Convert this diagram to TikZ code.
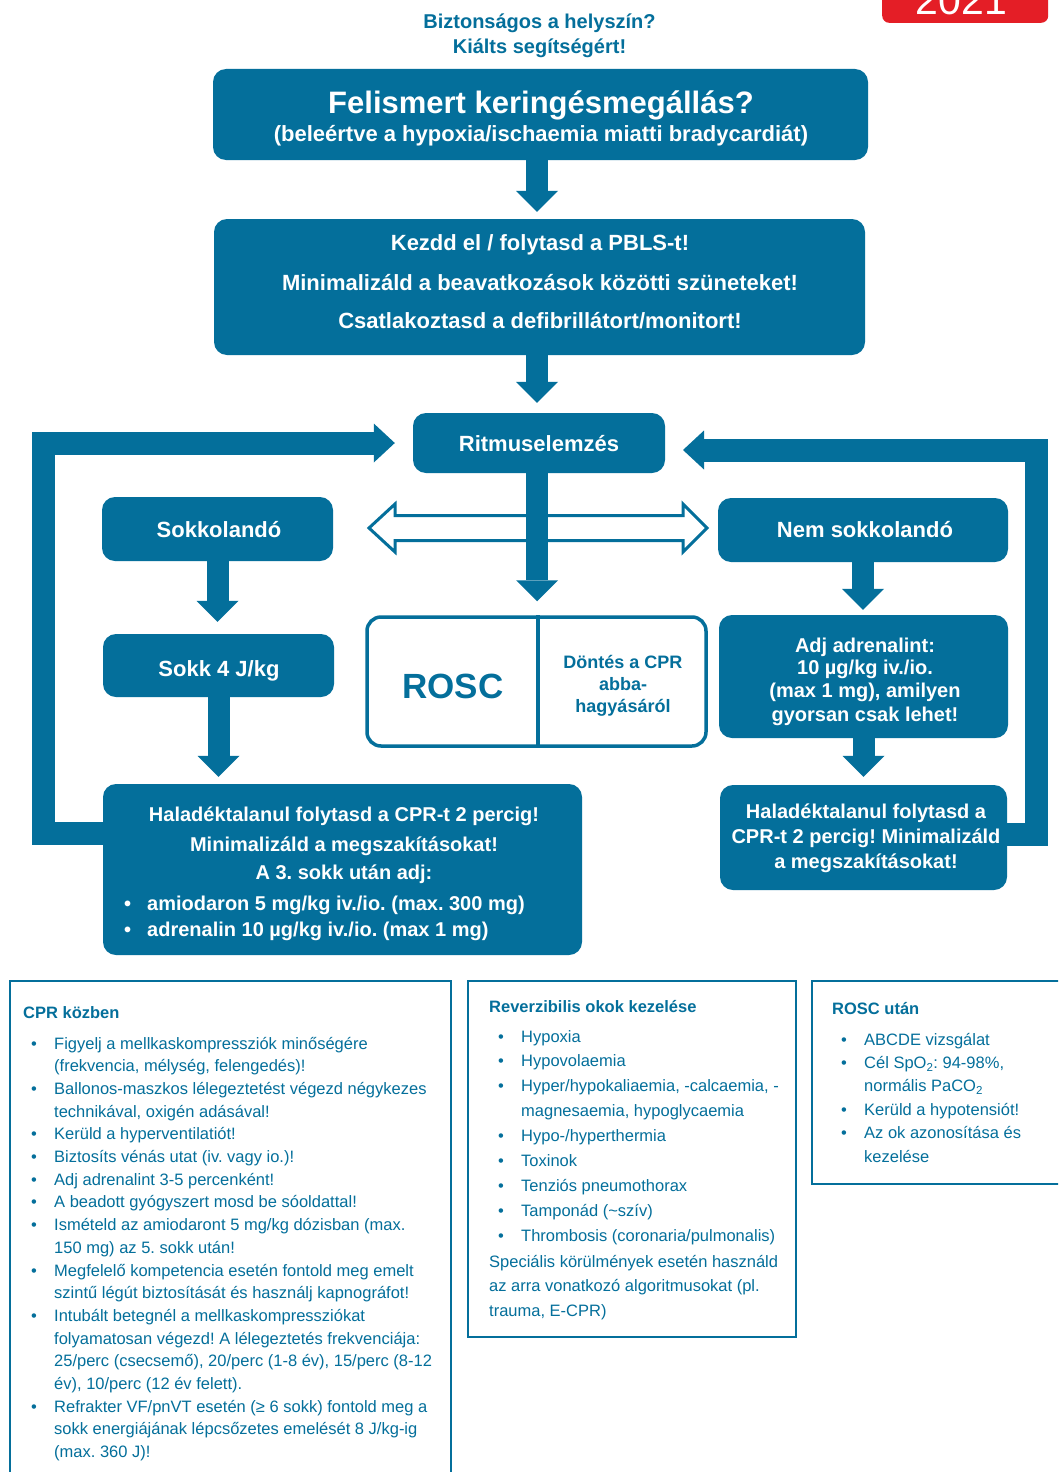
\documentclass[tikz,border=0pt]{standalone}
\usepackage{fontspec}
\setmainfont{Liberation Sans}
\usetikzlibrary{arrows.meta}
\definecolor{bblue}{RGB}{4,111,155}
\definecolor{tabred}{RGB}{228,30,38}
\frenchspacing
\begin{document}
\begin{tikzpicture}[x=1pt,y=-1pt,
  bluebox/.style={fill=bblue, rounded corners=13pt, inner sep=0pt, draw=none},
  wt/.style={text=white, inner sep=0pt, anchor=base, font=\bfseries\fontsize{22}{26}\selectfont},
  wts/.style={wt, font=\bfseries\fontsize{20}{24}\selectfont},
  barrow/.style={draw=bblue, line width=22pt, -{Triangle[length=21pt,width=42pt,line width=0pt]}},
  loopline/.style={draw=bblue, line width=23pt, line join=miter, -{Triangle[length=21pt,width=39pt,line width=0pt]}},
  panel/.style={draw=bblue, line width=2pt, inner sep=0pt, anchor=north west},
  btxt/.style={text=bblue, inner sep=0pt, anchor=base west, font=\fontsize{16.5}{20}\selectfont},
  bhead/.style={btxt, font=\bfseries\fontsize{16.5}{20}\selectfont}]
\useasboundingbox (0,0) rectangle (1058,1472);
\clip (0,0) rectangle (1058,1472);
\fill[white] (0,0) rectangle (1058,1472);

% year tab
\node[fill=tabred, rounded corners=7pt, minimum width=166, minimum height=50, anchor=south west, inner sep=0pt] (tab) at (882,23) {};
\node[text=white, inner sep=0pt, anchor=base, font=\fontsize{41}{41}\selectfont] (year) at (961.5,15) {2021};

% top question
\node[inner sep=0pt, anchor=base, text=bblue, font=\bfseries\fontsize{20}{24}\selectfont] (q1) at (539.5,29) {Biztonságos a helyszín?};
\node[inner sep=0pt, anchor=base, text=bblue, font=\bfseries\fontsize{20}{24}\selectfont] (q2) at (539.5,53) {Kiálts segítségért!};

% rhythm box first, then loops below the other boxes
\node[bluebox, minimum width=252, minimum height=60] (rit) at (539,443) {};
\coordinate (l1s) at (115,833);
\coordinate (l1c) at (43.5,443);
\coordinate (l2s) at (995,834);
\coordinate (l2c) at (1036.5,450);
\coordinate (l2e) at (665,450);
\draw[loopline, shorten >=18pt] (l1s) -| (l1c) -- (rit.west);
\draw[loopline, shorten >=18pt] (l2s) -| (l2c) -- (l2e);

% boxes
\node[bluebox, minimum width=655, minimum height=91] (b1) at (540.5,114.5) {};
\node[bluebox, minimum width=651, minimum height=136] (b2) at (539.5,287) {};
\node[bluebox, minimum width=231, minimum height=64] (sok) at (217.5,529) {};
\node[bluebox, minimum width=290, minimum height=64] (nsok) at (863,530) {};
\node[bluebox, minimum width=231, minimum height=63] (sokk) at (218.5,665.5) {};
\node[draw=bblue, fill=white, line width=3.5pt, rounded corners=14pt, inner sep=0pt, minimum width=339, minimum height=129] (rosc) at (536.5,681.5) {};
\node[bluebox, minimum width=289, minimum height=123] (adr) at (863.5,676.5) {};
\node[bluebox, minimum width=479, minimum height=171] (hl) at (342.5,869.5) {};
\node[bluebox, minimum width=287, minimum height=105] (hr) at (863.5,837.5) {};

% box texts
\node[wt, font=\bfseries\fontsize{31}{34}\selectfont] (t1a) at (541,113) {Felismert keringésmegállás?};
\node[wt] (t1b) at (541,141) {(beleértve a hypoxia/ischaemia miatti bradycardiát)};
\node[wt] (t2a) at (540,250) {Kezdd el / folytasd a PBLS-t!};
\node[wt] (t2b) at (540,290) {Minimalizáld a beavatkozások közötti szüneteket!};
\node[wt] (t2c) at (540,328) {Csatlakoztasd a defibrillátort/monitort!};
\node[wt] (trit) at (539,451) {Ritmuselemzés};
\node[wt] (tsok) at (219,537) {Sokkolandó};
\node[wt] (tnsok) at (865,537) {Nem sokkolandó};
\node[wt] (tsokk) at (219,676) {Sokk 4 J/kg};
\node[inner sep=0pt, anchor=base, text=bblue, font=\bfseries\fontsize{35}{40}\selectfont] (trosc) at (453,698) {ROSC};
\node[inner sep=0pt, anchor=base, text=bblue, font=\bfseries\fontsize{18}{22}\selectfont] (td1) at (623,668) {Döntés a CPR};
\node[inner sep=0pt, anchor=base, text=bblue, font=\bfseries\fontsize{18}{22}\selectfont] (td2) at (623,690) {abba-};
\node[inner sep=0pt, anchor=base, text=bblue, font=\bfseries\fontsize{18}{22}\selectfont] (td3) at (623,712) {hagyásáról};
\node[wts] (ta1) at (865,652) {Adj adrenalint:};
\node[wts] (ta2) at (865,674) {10 µg/kg iv./io.};
\node[wts] (ta3) at (865,697) {(max 1 mg), amilyen};
\node[wts] (ta4) at (865,721) {gyorsan csak lehet!};
\node[wts] (th1) at (344,821) {Haladéktalanul folytasd a CPR-t 2 percig!};
\node[wts] (th2) at (344,851) {Minimalizáld a megszakításokat!};
\node[wts] (th3) at (344,879) {A 3. sokk után adj:};
\node[wts, anchor=base west] (thb1) at (124,910) {•};
\node[wts, anchor=base west] (thb2) at (124,936) {•};
\node[wts, anchor=base west] (th4) at (147,910) {amiodaron 5 mg/kg iv./io. (max. 300 mg)};
\node[wts, anchor=base west] (th5) at (147,936) {adrenalin 10 µg/kg iv./io. (max 1 mg)};
\node[wts] (tr1) at (866,818) {Haladéktalanul folytasd a};
\node[wts] (tr2) at (866,843) {CPR-t 2 percig! Minimalizáld};
\node[wts] (tr3) at (866,868) {a megszakításokat!};

% ROSC divider
\draw[bblue, line width=3.5pt] ([xshift=1.5pt]rosc.north) -- ([xshift=1.5pt]rosc.south);

% hollow double arrow
\draw[bblue, line width=3pt, fill=white, line join=miter]
  (369,528) -- (395,504) -- (395,515.5) -- (683,515.5) -- (683,504) -- (707,528)
  -- (683,552) -- (683,540.5) -- (395,540.5) -- (395,552) -- cycle;

% straight arrows
\draw[barrow, shorten >=7pt] ([xshift=-3.5pt]b1.south) -- ([xshift=-2.5pt]b2.north);
\draw[barrow, shorten >=10pt] ([xshift=-2.5pt]b2.south) -- ([xshift=-2pt]rit.north);
\draw[barrow, shorten >=14pt] ([xshift=-2pt]rit.south) -- ([xshift=0.5pt]rosc.north);
\draw[barrow, shorten >=12pt] (sok.south) -- (sok.south |- sokk.north);
\draw[barrow, shorten >=7pt] (sokk.south) -- (sokk.south |- hl.north);
\draw[barrow, shorten >=5pt] (nsok.south) -- (nsok.south |- adr.north);
\draw[barrow, shorten >=8pt] (adr.south) -- (adr.south |- hr.north);

% bottom panels
\node[panel, minimum width=441, minimum height=540] (cpr) at (9,980) {};
\node[panel, minimum width=328, minimum height=356] (rev) at (467,980) {};
\node[panel, minimum width=300, minimum height=203] (ru) at (811,980) {};

\node[bhead] (cprh) at (23,1018) {CPR közben};
\foreach \mytext [count=\i] in {
  {Figyelj a mellkaskompressziók minőségére},
  {(frekvencia, mélység, felengedés)!},
  {Ballonos-maszkos lélegeztetést végezd négykezes},
  {technikával, oxigén adásával!},
  {Kerüld a hyperventilatiót!},
  {Biztosíts vénás utat (iv. vagy io.)!},
  {Adj adrenalint 3-5 percenként!},
  {A beadott gyógyszert mosd be sóoldattal!},
  {Ismételd az amiodaront 5 mg/kg dózisban (max.},
  {150 mg) az 5. sokk után!},
  {Megfelelő kompetencia esetén fontold meg emelt},
  {szintű légút biztosítását és használj kapnográfot!},
  {Intubált betegnél a mellkaskompressziókat},
  {folyamatosan végezd! A lélegeztetés frekvenciája:},
  {25/perc (csecsemő), 20/perc (1-8 év), 15/perc (8-12},
  {év), 10/perc (12 év felett).},
  {Refrakter VF/pnVT esetén (≥ 6 sokk) fontold meg a},
  {sokk energiájának lépcsőzetes emelését 8 J/kg-ig},
  {(max. 360 J)!}}
  \node[btxt] (cpr\i) at (54,{1049+(\i-1)*22.7}) {\mytext};
\foreach \k in {1,3,5,6,7,8,9,11,13,17}
  \node[btxt] (cprb\k) at (31,{1049+(\k-1)*22.7}) {•};

\node[bhead] (revh) at (489,1012) {Reverzibilis okok kezelése};
\foreach \mytext [count=\i] in {
  {Hypoxia},
  {Hypovolaemia},
  {Hyper/hypokaliaemia, -calcaemia, -},
  {magnesaemia, hypoglycaemia},
  {Hypo-/hyperthermia},
  {Toxinok},
  {Tenziós pneumothorax},
  {Tamponád (\textasciitilde szív)},
  {Thrombosis (coronaria/pulmonalis)}}
  \node[btxt] (rev\i) at (521,{1042+(\i-1)*24.9}) {\mytext};
\foreach \k in {1,2,3,5,6,7,8,9}
  \node[btxt] (revb\k) at (498,{1042+(\k-1)*24.9}) {•};
\node[btxt] (revs1) at (489,1267) {Speciális körülmények esetén használd};
\node[btxt] (revs2) at (489,1291.5) {az arra vonatkozó algoritmusokat (pl.};
\node[btxt] (revs3) at (489,1316) {trauma, E-CPR)};

\node[bhead] (ruh) at (832,1014) {ROSC után};
\foreach \mytext [count=\i] in {
  {ABCDE vizsgálat},
  {Cél SpO\textsubscript{2}: 94-98\%,},
  {normális PaCO\textsubscript{2}},
  {Kerüld a hypotensiót!},
  {Az ok azonosítása és},
  {kezelése}}
  \node[btxt] (ru\i) at (864,{1045+(\i-1)*23.4}) {\mytext};
\foreach \k in {1,2,4,5}
  \node[btxt] (rub\k) at (841,{1045+(\k-1)*23.4}) {•};
\end{tikzpicture}
\end{document}
